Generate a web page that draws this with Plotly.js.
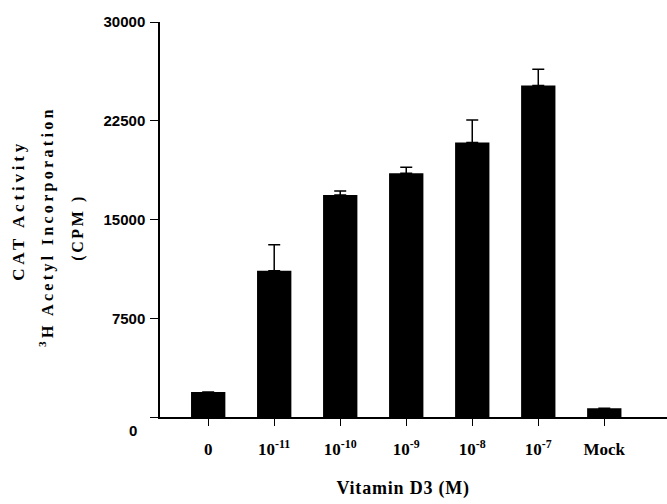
<!DOCTYPE html>
<html>
<head>
<meta charset="utf-8">
<script src="https://cdn.plot.ly/plotly-3.0.1.min.js"></script>
<style>
html,body{margin:0;padding:0;background:#fff;}
.annotation[data-index="0"] text{letter-spacing:3.8px;}
.annotation[data-index="1"] text{letter-spacing:3.3px;}
.annotation[data-index="2"] text{letter-spacing:2.6px;}
.annotation[data-index="3"] text{letter-spacing:0.8px;}
</style>
</head>
<body>
<div id="chart" style="width:667px;height:504px;"></div>
<script>
const categories = ["0", "10<sup>-11</sup>", "10<sup>-10</sup>", "10<sup>-9</sup>", "10<sup>-8</sup>", "10<sup>-7</sup>", "Mock"];
const catActivity = [1900, 11100, 16860, 18510, 20840, 25170, 660];
const errorUp = [0, 1975, 300, 460, 1720, 1245, 0];
const errorDown = [0, 0, 0, 0, 0, 0, 0];
const yTickVals = [0, 7500, 15000, 22500, 30000];
const yTickText = ["", "7500", "15000", "22500", "30000"];

const serifBold = {family: "Liberation Serif, Times New Roman, serif", color: "#000", weight: "bold"};
const sansBold = {family: "Liberation Sans, Arial, sans-serif", color: "#000", weight: "bold"};

const trace = {
  type: "bar",
  x: categories,
  y: catActivity,
  width: 0.52,
  marker: {color: "#000", line: {width: 0}},
  error_y: {type: "data", symmetric: false, array: errorUp, arrayminus: errorDown,
            color: "#000", thickness: 1.5, width: 6},
  hoverinfo: "skip"
};

const layout = {
  width: 667, height: 504,
  margin: {l: 160, r: 0, t: 22, b: 87, pad: 0},
  paper_bgcolor: "#fff", plot_bgcolor: "#fff",
  showlegend: false,
  xaxis: {
    type: "category",
    categoryorder: "array", categoryarray: categories,
    range: [-0.73, 6.95],
    showline: true, linecolor: "#000", linewidth: 1.5,
    ticks: "outside", ticklen: 7, tickwidth: 1, tickcolor: "#000",
    ticklabelstandoff: 9,
    tickfont: Object.assign({size: 17}, serifBold),
    showgrid: false, zeroline: false, fixedrange: true
  },
  yaxis: {
    range: [0, 30000],
    tickvals: yTickVals, ticktext: yTickText,
    showline: true, linecolor: "#000", linewidth: 1.5,
    ticks: "outside", ticklen: 8, tickwidth: 1.2, tickcolor: "#000",
    ticklabelstandoff: 2,
    tickfont: Object.assign({size: 15}, sansBold),
    showgrid: false, zeroline: false, fixedrange: true
  },
  annotations: [
    {text: "CAT Activity", xref: "paper", yref: "paper", x: (18 - 160) / 507, y: (417 - 210) / 395,
     xanchor: "center", yanchor: "middle", textangle: -90, showarrow: false,
     font: Object.assign({size: 17}, serifBold)},
    {text: "<sup>3</sup>H Acetyl Incorporation", xref: "paper", yref: "paper", x: (46 - 160) / 507, y: (417 - 227) / 395,
     xanchor: "center", yanchor: "middle", textangle: -90, showarrow: false,
     font: Object.assign({size: 16}, serifBold)},
    {text: "(CPM )", xref: "paper", yref: "paper", x: (78 - 160) / 507, y: (417 - 228) / 395,
     xanchor: "center", yanchor: "middle", textangle: -90, showarrow: false,
     font: Object.assign({size: 16}, serifBold)},
    {text: "Vitamin D3 (M)", xref: "paper", yref: "paper", x: (403 - 160) / 507, y: (417 - 488) / 395,
     xanchor: "center", yanchor: "middle", showarrow: false,
     font: Object.assign({size: 18}, serifBold)},
    {text: "0", xref: "paper", yref: "y", x: (139 - 160) / 507, y: 0, yshift: -13,
     xanchor: "right", yanchor: "middle", showarrow: false,
     font: Object.assign({size: 15}, sansBold)}
  ]
};

Plotly.newPlot("chart", [trace], layout, {displayModeBar: false});
</script>
</body>
</html>
